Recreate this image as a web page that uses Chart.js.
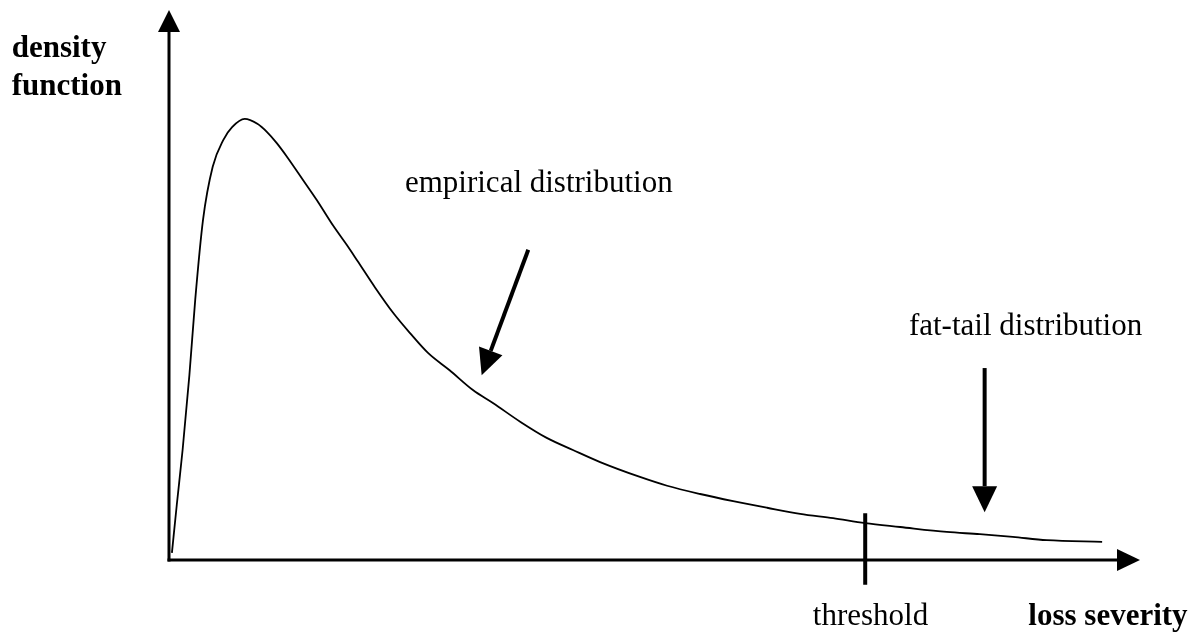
<!DOCTYPE html>
<html>
<head>
<meta charset="utf-8">
<script src="https://cdn.jsdelivr.net/npm/chart.js@4"></script>
<style>
  html, body { margin: 0; padding: 0; background: #fff; }
  canvas { display: block; }
</style>
</head>
<body>
<canvas id="chart" width="1201" height="633"></canvas>
<script>
// loss severity (x) and density (y), both in arbitrary units 0..100
const severity = [0.3, 0.8, 1.4, 2.1, 2.7, 3.5, 4.5, 5.6, 6.5, 7.8, 9.1, 10.1, 11.1, 12.2, 13.8, 15.2, 16.9, 18.3, 19.4, 21.2, 23.1, 24.8, 26.7, 28.9, 31.3, 33.4, 36.2, 38.9, 41.6, 44.4, 48.5, 51.3, 54.7, 58.1, 61.6, 65.0, 68.4, 71.7, 75.3, 80.1, 83.5, 86.9, 90.4, 96.1];
const density = [1.3, 10.0, 20.0, 33.6, 47.3, 61.8, 71.5, 76.4, 78.7, 80.2, 79.3, 77.8, 75.8, 73.2, 69.1, 65.5, 60.8, 57.3, 54.4, 49.6, 44.9, 41.3, 37.6, 34.5, 30.9, 28.5, 25.1, 22.2, 20.0, 17.8, 15.1, 13.5, 12.0, 10.7, 9.5, 8.4, 7.6, 6.7, 6.0, 5.1, 4.7, 4.2, 3.6, 3.3];

const threshold = 71.7;

// text labels: [text, x, y, bold]
const labels = [
  ['density', -16.2, 91.5, true],
  ['function', -16.2, 84.6, true],
  ['empirical distribution', 24.3, 66.9, false],
  ['fat-tail distribution', 76.2, 40.9, false],
  ['threshold', 66.3, -11.8, false],
  ['loss severity', 88.5, -11.8, true],
];

// pointer arrows: [fromX, fromY, toX, toY]
const pointers = [
  [37.0, 56.4, 32.2, 33.6],
  [84.0, 34.9, 84.0, 8.7],
];

function arrow(ctx, x1, y1, x2, y2, lw, headLen, headW) {
  const ang = Math.atan2(y2 - y1, x2 - x1);
  const bx = x2 - Math.cos(ang) * headLen;
  const by = y2 - Math.sin(ang) * headLen;
  ctx.lineWidth = lw;
  ctx.beginPath();
  ctx.moveTo(x1, y1);
  ctx.lineTo(bx, by);
  ctx.stroke();
  const px = -Math.sin(ang) * headW / 2;
  const py = Math.cos(ang) * headW / 2;
  ctx.beginPath();
  ctx.moveTo(x2, y2);
  ctx.lineTo(bx + px, by + py);
  ctx.lineTo(bx - px, by - py);
  ctx.closePath();
  ctx.fill();
}

const overlay = {
  id: 'overlay',
  afterDatasetsDraw(chart) {
    const { ctx, chartArea: a, scales: { x, y } } = chart;
    ctx.save();
    ctx.strokeStyle = '#000';
    ctx.fillStyle = '#000';

    // axes with arrow heads
    arrow(ctx, a.left, a.bottom + 1.5, a.left, a.top, 3, 22, 22);
    arrow(ctx, a.left - 1.5, a.bottom, a.right, a.bottom, 3, 23, 22);

    // threshold tick
    ctx.lineWidth = 4;
    ctx.beginPath();
    ctx.moveTo(x.getPixelForValue(threshold), y.getPixelForValue(8.5));
    ctx.lineTo(x.getPixelForValue(threshold), y.getPixelForValue(-4.5));
    ctx.stroke();

    pointers.forEach(p => {
      arrow(ctx, x.getPixelForValue(p[0]), y.getPixelForValue(p[1]),
        x.getPixelForValue(p[2]), y.getPixelForValue(p[3]), 4, 26, 25);
    });

    ctx.textAlign = 'left';
    ctx.textBaseline = 'alphabetic';
    labels.forEach(l => {
      ctx.font = (l[3] ? 'bold ' : '') + '31px "Liberation Serif", "Times New Roman", serif';
      ctx.fillText(l[0], x.getPixelForValue(l[1]), y.getPixelForValue(l[2]));
    });
    ctx.restore();
  }
};

new Chart(document.getElementById('chart'), {
  type: 'line',
  data: {
    datasets: [{
      data: severity.map((v, i) => ({ x: v, y: density[i] })),
      borderColor: '#000',
      borderWidth: 1.8,
      pointRadius: 0,
      cubicInterpolationMode: 'monotone',
      fill: false,
    }],
  },
  options: {
    responsive: false,
    animation: false,
    layout: { padding: { left: 169, right: 61, top: 10, bottom: 73 } },
    scales: {
      x: { type: 'linear', min: 0, max: 100, display: false },
      y: { min: 0, max: 100, display: false },
    },
    plugins: { legend: { display: false }, tooltip: { enabled: false } },
  },
  plugins: [overlay],
});
</script>
</body>
</html>
